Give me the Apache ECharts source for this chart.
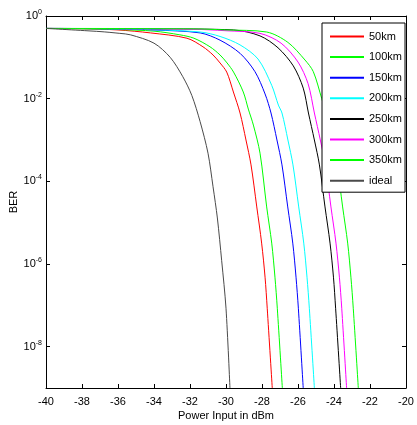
<!DOCTYPE html>
<html>
<head>
<meta charset="utf-8">
<script src="https://cdn.jsdelivr.net/npm/echarts@6/dist/echarts.min.js"></script>
<style>
html,body{margin:0;padding:0;background:#fff;}
#chart{width:417px;height:425px;}
</style>
</head>
<body>
<div id="chart"></div>
<script>
// Series names and colours
const seriesNames = ['50km','100km','150km','200km','250km','300km','350km','ideal'];
const seriesColors = ['#ff0000','#00ff00','#0000ff','#00ffff','#000000','#ff00ff','#00ff00','#4a4a4a'];

// Power input (dBm) and BER
const power50  = [-40, -38, -36, -34.2, -32.17, -31.28, -30.72, -30.33, -29.96, -29.59, -29.22, -28.89, -28.61, -28.29, -28.02, -27.83, -27.71, -27.43];
const ber50    = [0.5, 0.49, 0.46, 0.39, 0.29, 0.18, 0.114, 0.073, 0.044, 0.0145, 4.5e-3, 1e-3, 2.5e-4, 2.4e-5, 3.2e-6, 4.8e-7, 8.5e-8, 1e-9];

const power100 = [-40, -38, -36, -34, -32.56, -31.78, -30.89, -30.33, -29.94, -29.58, -29.04, -28.76, -28.48, -28.11, -27.74, -27.46, -27.28, -27.15, -26.87];
const ber100   = [0.5, 0.49, 0.47, 0.43, 0.35, 0.29, 0.18, 0.114, 0.073, 0.044, 0.0145, 5.6e-3, 2.3e-3, 4.8e-4, 2.4e-5, 3.2e-6, 4.8e-7, 8.5e-8, 1e-9];

const power150 = [-40, -36, -34, -31.44, -30.33, -29.22, -28.39, -27.83, -27.5, -27.17, -26.89, -26.57, -26.29, -26.11, -25.98, -25.71];
const ber150   = [0.5, 0.49, 0.46, 0.39, 0.26, 0.125, 0.045, 0.013, 4.5e-3, 1e-3, 2.5e-4, 2.4e-5, 3.2e-6, 4.8e-7, 8.5e-8, 1e-9];

const power200 = [-40, -35, -31.44, -30.33, -29.22, -28.22, -27.46, -27.09, -26.89, -26.56, -26.28, -25.96, -25.68, -25.5, -25.37, -25.09];
const ber200   = [0.5, 0.48, 0.41, 0.32, 0.20, 0.091, 0.021, 7e-3, 4.5e-3, 1e-3, 2.5e-4, 2.4e-5, 3.2e-6, 4.8e-7, 8.5e-8, 1e-9];

const power250 = [-40, -34, -29.59, -28.11, -27.11, -26.26, -25.71, -25.42, -25.09, -24.81, -24.5, -24.22, -24.03, -23.91, -23.63];
const ber250   = [0.5, 0.49, 0.46, 0.33, 0.17, 0.062, 0.018, 4.5e-3, 1e-3, 2.5e-4, 2.4e-5, 3.2e-6, 4.8e-7, 8.5e-8, 1e-9];

const power300 = [-40, -32, -30, -28.11, -26.94, -26.0, -25.44, -25.09, -24.76, -24.48, -24.17, -23.89, -23.7, -23.57, -23.3];
const ber300   = [0.5, 0.48, 0.44, 0.38, 0.22, 0.077, 0.023, 4.5e-3, 1e-3, 2.5e-4, 2.4e-5, 3.2e-6, 4.8e-7, 8.5e-8, 1e-9];

const power350 = [-40, -32, -30, -27.74, -26.56, -25.61, -25.15, -24.68, -24.44, -24.11, -23.83, -23.52, -23.24, -23.06, -22.93, -22.65];
const ber350   = [0.5, 0.49, 0.46, 0.41, 0.23, 0.086, 0.045, 0.010, 4.5e-3, 1e-3, 2.5e-4, 2.4e-5, 3.2e-6, 4.8e-7, 8.5e-8, 1e-9];

const powerIdeal = [-40, -37, -35.9, -35.3, -34.0, -33.1, -32.4, -31.9, -31.44, -31.0, -30.72, -30.48, -30.24, -30.0, -29.78];
const berIdeal   = [0.5, 0.42, 0.38, 0.35, 0.22, 0.10, 0.034, 0.012, 2.8e-3, 4.8e-4, 7.4e-5, 1.3e-5, 1.2e-6, 8.5e-8, 1e-9];

// Axis ticks
const xMin = -40, xMax = -20, xStep = 2;
const yTickValues = [1, 1e-2, 1e-4, 1e-6, 1e-8];

const powers = [power50, power100, power150, power200, power250, power300, power350, powerIdeal];
const bers   = [ber50, ber100, ber150, ber200, ber250, ber300, ber350, berIdeal];

const FONT = 'Liberation Sans, Arial, sans-serif';

function zip(a, b) { return a.map((v, i) => [v, b[i]]); }

const chart = echarts.init(document.getElementById('chart'), null, {renderer: 'canvas'});

function yLabel(v) {
  const e = Math.round(Math.log10(v));
  return '{b|10}{s|' + e + '}';
}

const richY = {
  b: {fontSize: 11, fontFamily: FONT, color: '#000'},
  s: {fontSize: 7, fontFamily: FONT, color: '#000', padding: [0, 0, 8, 0]}
};

const option = {
  backgroundColor: '#fff',
  animation: false,
  grid: {left: 46, right: 11, top: 16, bottom: 37, containLabel: false, outerBoundsMode: 'none'},
  legend: {
    orient: 'vertical',
    left: 322,
    top: 23,
    z: 10,
    padding: [8, 3, 6, 7],
    itemGap: 9.6,
    itemWidth: 34,
    itemHeight: 11,
    backgroundColor: '#fff',
    borderColor: '#000',
    borderWidth: 1,
    borderRadius: 0,
    itemStyle: {opacity: 0},
    textStyle: {fontSize: 11, fontFamily: FONT, color: '#000'},
    data: seriesNames
  },
  xAxis: [
    {
      type: 'value', min: xMin, max: xMax, interval: xStep, position: 'bottom',
      name: 'Power Input in dBm', nameLocation: 'middle', nameGap: 22, nameMoveOverlap: false,
      nameTextStyle: {fontSize: 11, fontFamily: FONT, color: '#000'},
      axisLine: {show: true, onZero: false, lineStyle: {color: '#000', width: 1}},
      axisTick: {show: true, inside: true, length: 4, lineStyle: {color: '#000'}},
      axisLabel: {fontSize: 11, fontFamily: FONT, color: '#000', margin: 8},
      splitLine: {show: false}
    },
    {
      type: 'value', min: xMin, max: xMax, interval: xStep, position: 'top',
      axisLine: {show: true, onZero: false, lineStyle: {color: '#000', width: 1}},
      axisTick: {show: true, inside: true, length: 4, lineStyle: {color: '#000'}},
      axisLabel: {show: false},
      splitLine: {show: false}
    }
  ],
  yAxis: [
    {
      type: 'log', logBase: 10, min: 1e-9, max: 1, position: 'left',
      name: 'BER', nameLocation: 'middle', nameGap: 27, nameMoveOverlap: false,
      nameTextStyle: {fontSize: 11, fontFamily: FONT, color: '#000'},
      axisLine: {show: true, onZero: false, lineStyle: {color: '#000', width: 1}},
      axisTick: {show: true, inside: true, length: 4, lineStyle: {color: '#000'}, customValues: yTickValues},
      axisLabel: {formatter: yLabel, rich: richY, margin: 4, customValues: yTickValues},
      splitLine: {show: false}
    },
    {
      type: 'log', logBase: 10, min: 1e-9, max: 1, position: 'right',
      axisLine: {show: true, onZero: false, lineStyle: {color: '#000', width: 1}},
      axisTick: {show: true, inside: true, length: 4, lineStyle: {color: '#000'}, customValues: yTickValues},
      axisLabel: {show: false},
      splitLine: {show: false}
    }
  ],
  series: seriesNames.map((name, i) => ({
    name: name,
    type: 'line',
    xAxisIndex: 0,
    yAxisIndex: 0,
    symbol: 'none',
    showSymbol: false,
    smooth: 0.3,
    clip: true,
    color: seriesColors[i],
    lineStyle: {color: seriesColors[i], width: 1},
    data: zip(powers[i], bers[i])
  }))
};

chart.setOption(option);
</script>
</body>
</html>
